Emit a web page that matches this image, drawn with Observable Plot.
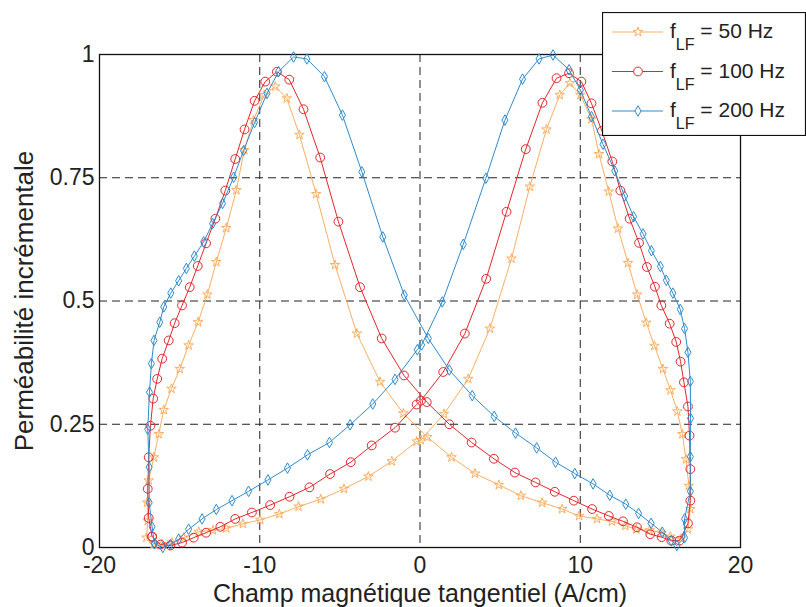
<!DOCTYPE html>
<html>
<head>
<meta charset="utf-8">
<script src="https://cdn.jsdelivr.net/npm/d3@7"></script>
<script src="https://cdn.jsdelivr.net/npm/@observablehq/plot@0.6"></script>
<style>
  html, body { margin: 0; padding: 0; background: #fff; }
  #chart { position: relative; width: 806px; height: 607px; }
</style>
</head>
<body>
<div id="chart"></div>
<script>
// ---- Data ----
const xTicks = [-20, -10, 0, 10, 20];
const yTicks = [0, 0.25, 0.5, 0.75, 1];
const xLabel = "Champ magnétique tangentiel (A/cm)";
const yLabel = "Perméabilité incrémentale";
const seriesNames = ["50 Hz", "100 Hz", "200 Hz"];

const h50 = [-16.6, -17.07, -16.99, -17.03, -16.93, -16.61, -16.3, -15.99, -15.51, -14.99, -14.44, -13.85, -13.27, -12.71, -12.09, -11.46, -10.97, -10.39, -9.72, -9.03, -8.31, -7.52, -6.48, -5.3, -3.94, -2.49, -1.04, 0.46, 1.97, 3.43, 4.92, 6.29, 7.62, 8.87, 9.93, 11.05, 11.98, 12.81, 13.5, 14.33, 15.06, 15.62, 16.3, 16.72, 16.87, 16.78, 16.6, 16.37, 16.06, 15.63, 15.16, 14.63, 14.12, 13.55, 12.98, 12.36, 11.78, 11.17, 10.7, 10.01, 9.35, 8.72, 7.89, 6.85, 5.71, 4.36, 3.01, 1.5, 0.05, -0.21, -1.76, -3.22, -4.74, -6.19, -7.58, -8.78, -9.97, -11.05, -12.09, -12.92, -13.81, -14.75, -15.47, -16.1, -16.6];
const mu50 = [0.007, 0.02, 0.054, 0.091, 0.136, 0.183, 0.23, 0.279, 0.322, 0.362, 0.41, 0.457, 0.513, 0.579, 0.648, 0.725, 0.806, 0.867, 0.918, 0.935, 0.911, 0.837, 0.717, 0.573, 0.434, 0.336, 0.272, 0.224, 0.183, 0.15, 0.127, 0.105, 0.091, 0.078, 0.064, 0.058, 0.053, 0.044, 0.037, 0.035, 0.03, 0.022, 0.018, 0.037, 0.078, 0.125, 0.179, 0.23, 0.276, 0.319, 0.362, 0.409, 0.456, 0.513, 0.577, 0.647, 0.722, 0.798, 0.869, 0.918, 0.942, 0.918, 0.848, 0.732, 0.586, 0.444, 0.342, 0.271, 0.218, 0.215, 0.175, 0.144, 0.119, 0.098, 0.083, 0.068, 0.056, 0.048, 0.039, 0.035, 0.032, 0.02, 0.01, 0.007, 0.007];

const h100 = [-16.72, -16.93, -16.99, -16.93, -16.82, -16.65, -16.4, -16.09, -15.68, -15.31, -14.85, -14.37, -13.87, -13.35, -12.77, -12.15, -11.53, -10.95, -10.32, -9.66, -8.93, -8.16, -7.27, -6.23, -5.09, -3.74, -2.39, -1.0, 0.42, 1.83, 3.22, 4.61, 5.92, 7.21, 8.41, 9.6, 10.74, 11.78, 12.67, 13.54, 14.37, 15.08, 15.68, 16.2, 16.72, 16.87, 16.87, 16.82, 16.72, 16.47, 16.26, 15.99, 15.58, 15.06, 14.66, 14.16, 13.67, 13.08, 12.5, 12.0, 11.35, 10.7, 10.07, 9.3, 8.52, 7.64, 6.6, 5.4, 4.13, 2.8, 1.45, 0.06, -0.21, -1.56, -3.01, -4.32, -5.61, -6.9, -8.14, -9.35, -10.49, -11.53, -12.46, -13.35, -14.12, -14.85, -15.58, -16.2, -16.72];
const mu100 = [0.022, 0.06, 0.119, 0.183, 0.247, 0.302, 0.342, 0.383, 0.42, 0.455, 0.491, 0.528, 0.571, 0.617, 0.667, 0.724, 0.788, 0.848, 0.906, 0.945, 0.965, 0.949, 0.889, 0.791, 0.661, 0.528, 0.424, 0.349, 0.295, 0.25, 0.213, 0.18, 0.152, 0.132, 0.113, 0.095, 0.078, 0.064, 0.053, 0.041, 0.027, 0.021, 0.014, 0.014, 0.049, 0.095, 0.159, 0.227, 0.286, 0.335, 0.377, 0.417, 0.454, 0.491, 0.529, 0.569, 0.618, 0.667, 0.724, 0.783, 0.845, 0.901, 0.945, 0.962, 0.952, 0.902, 0.808, 0.681, 0.545, 0.434, 0.356, 0.298, 0.29, 0.243, 0.207, 0.173, 0.149, 0.122, 0.103, 0.086, 0.071, 0.058, 0.042, 0.03, 0.02, 0.01, 0.004, 0.006, 0.022];

const h200 = [-16.57, -16.72, -16.9, -16.9, -16.99, -16.88, -16.76, -16.6, -16.24, -15.99, -15.55, -15.06, -14.58, -14.08, -13.5, -12.94, -12.32, -11.63, -11.01, -10.32, -9.55, -8.83, -7.89, -7.06, -5.96, -4.84, -3.63, -2.32, -0.98, 0.52, 1.83, 3.26, 4.63, 5.96, 7.28, 8.46, 9.66, 10.8, 11.84, 12.84, 13.64, 14.42, 15.12, 15.68, 16.03, 16.51, 16.51, 16.87, 16.87, 16.88, 16.87, 16.72, 16.51, 16.24, 15.78, 15.37, 15.0, 14.44, 13.92, 13.33, 12.77, 12.15, 11.42, 10.7, 10.01, 9.3, 8.3, 7.43, 6.4, 5.3, 4.11, 2.7, 1.39, 0.1, -0.17, -1.56, -2.95, -4.36, -5.65, -7.02, -8.27, -9.49, -10.7, -11.73, -12.71, -13.6, -14.44, -15.06, -15.58, -16.05, -16.57];
const mu200 = [0.008, 0.042, 0.091, 0.163, 0.24, 0.315, 0.373, 0.42, 0.457, 0.488, 0.516, 0.541, 0.566, 0.591, 0.62, 0.657, 0.698, 0.751, 0.805, 0.862, 0.921, 0.965, 0.995, 0.991, 0.955, 0.877, 0.762, 0.63, 0.512, 0.424, 0.36, 0.308, 0.266, 0.232, 0.202, 0.173, 0.15, 0.129, 0.106, 0.088, 0.069, 0.049, 0.031, 0.014, 0.004, 0.02, 0.058, 0.114, 0.184, 0.262, 0.337, 0.396, 0.444, 0.483, 0.516, 0.542, 0.57, 0.602, 0.636, 0.671, 0.713, 0.764, 0.818, 0.874, 0.928, 0.969, 0.999, 0.991, 0.95, 0.867, 0.749, 0.615, 0.498, 0.411, 0.401, 0.341, 0.291, 0.249, 0.213, 0.188, 0.161, 0.137, 0.114, 0.095, 0.077, 0.058, 0.037, 0.017, 0.006, 0.0, 0.008];

// ---- Styles ----
const colors = ["#fdae61", "#e3262b", "#2f8bcc"];
const symbols = ["star", "circle", "diamond"];
const radii = [3.0, 4.4, 3.2];

const toRows = (hs, ms) => hs.map((h, i) => ({h, mu: ms[i]}));
const series = [toRows(h50, mu50), toRows(h100, mu100), toRows(h200, mu200)];

const marks = [
  Plot.ruleX([-10, 0, 10], {stroke: "#222", strokeDasharray: "8,5", strokeWidth: 1}),
  Plot.ruleY([0.25, 0.5, 0.75], {stroke: "#222", strokeDasharray: "8,5", strokeWidth: 1}),
  Plot.frame({stroke: "#111", strokeWidth: 1.3})
];
series.forEach((rows, i) => {
  marks.push(Plot.line(rows, {x: "h", y: "mu", stroke: colors[i], strokeWidth: 1}));
  marks.push(Plot.dot(rows, {x: "h", y: "mu", symbol: symbols[i], r: radii[i], stroke: colors[i], fill: "none", strokeWidth: 1}));
});
marks.push(Plot.text([xLabel], {frameAnchor: "bottom", textAnchor: "middle", lineAnchor: "middle", dy: 46, fontSize: 25, fill: "#222"}));
marks.push(Plot.text([yLabel], {frameAnchor: "left", textAnchor: "middle", lineAnchor: "middle", rotate: -90, dx: -75, fontSize: 26, fill: "#222"}));

const plot = Plot.plot({
  width: 806,
  height: 607,
  marginTop: 54,
  marginRight: 66,
  marginBottom: 60,
  marginLeft: 99,
  style: {fontFamily: "'Liberation Sans', Arial, sans-serif", fontSize: "23px", color: "#222", background: "white"},
  x: {domain: [-20, 20], ticks: xTicks, tickFormat: d => String(d), tickSize: 0, tickPadding: 9, label: null},
  y: {domain: [0, 1], ticks: yTicks, tickFormat: d => String(d), tickSize: 0, tickPadding: 5, label: null},
  marks
});
const chart = document.getElementById("chart");
chart.appendChild(plot);

// ---- Legend (overlay box, top right) ----
const leg = d3.create("svg")
  .attr("width", 204).attr("height", 124)
  .style("position", "absolute").style("left", "602px").style("top", "12px")
  .style("font-family", "'Liberation Sans', Arial, sans-serif");
leg.append("rect").attr("x", 0.5).attr("y", 0.5).attr("width", 203).attr("height", 123)
  .attr("fill", "white").attr("stroke", "#111").attr("stroke-width", 1.2);
const d3sym = {star: d3.symbolStar, circle: d3.symbolCircle, diamond: d3.symbolDiamond};
seriesNames.forEach((name, i) => {
  const cy = 20 + i * 39.5;
  const g = leg.append("g");
  g.append("line").attr("x1", 10).attr("x2", 61).attr("y1", cy).attr("y2", cy)
    .attr("stroke", colors[i]).attr("stroke-width", 1);
  g.append("path").attr("transform", `translate(36,${cy})`)
    .attr("d", d3.symbol(d3sym[symbols[i]], Math.PI * radii[i] * radii[i])())
    .attr("fill", "white").attr("stroke", colors[i]).attr("stroke-width", 1);
  const t = g.append("text").attr("x", 68).attr("y", cy + 6).attr("fill", "#222");
  t.append("tspan").attr("font-size", 21).text("f");
  t.append("tspan").attr("font-size", 16).attr("dy", 12).text("LF");
  t.append("tspan").attr("font-size", 21).attr("dy", -12).text(" = " + name);
});
chart.appendChild(leg.node());
</script>
</body>
</html>
